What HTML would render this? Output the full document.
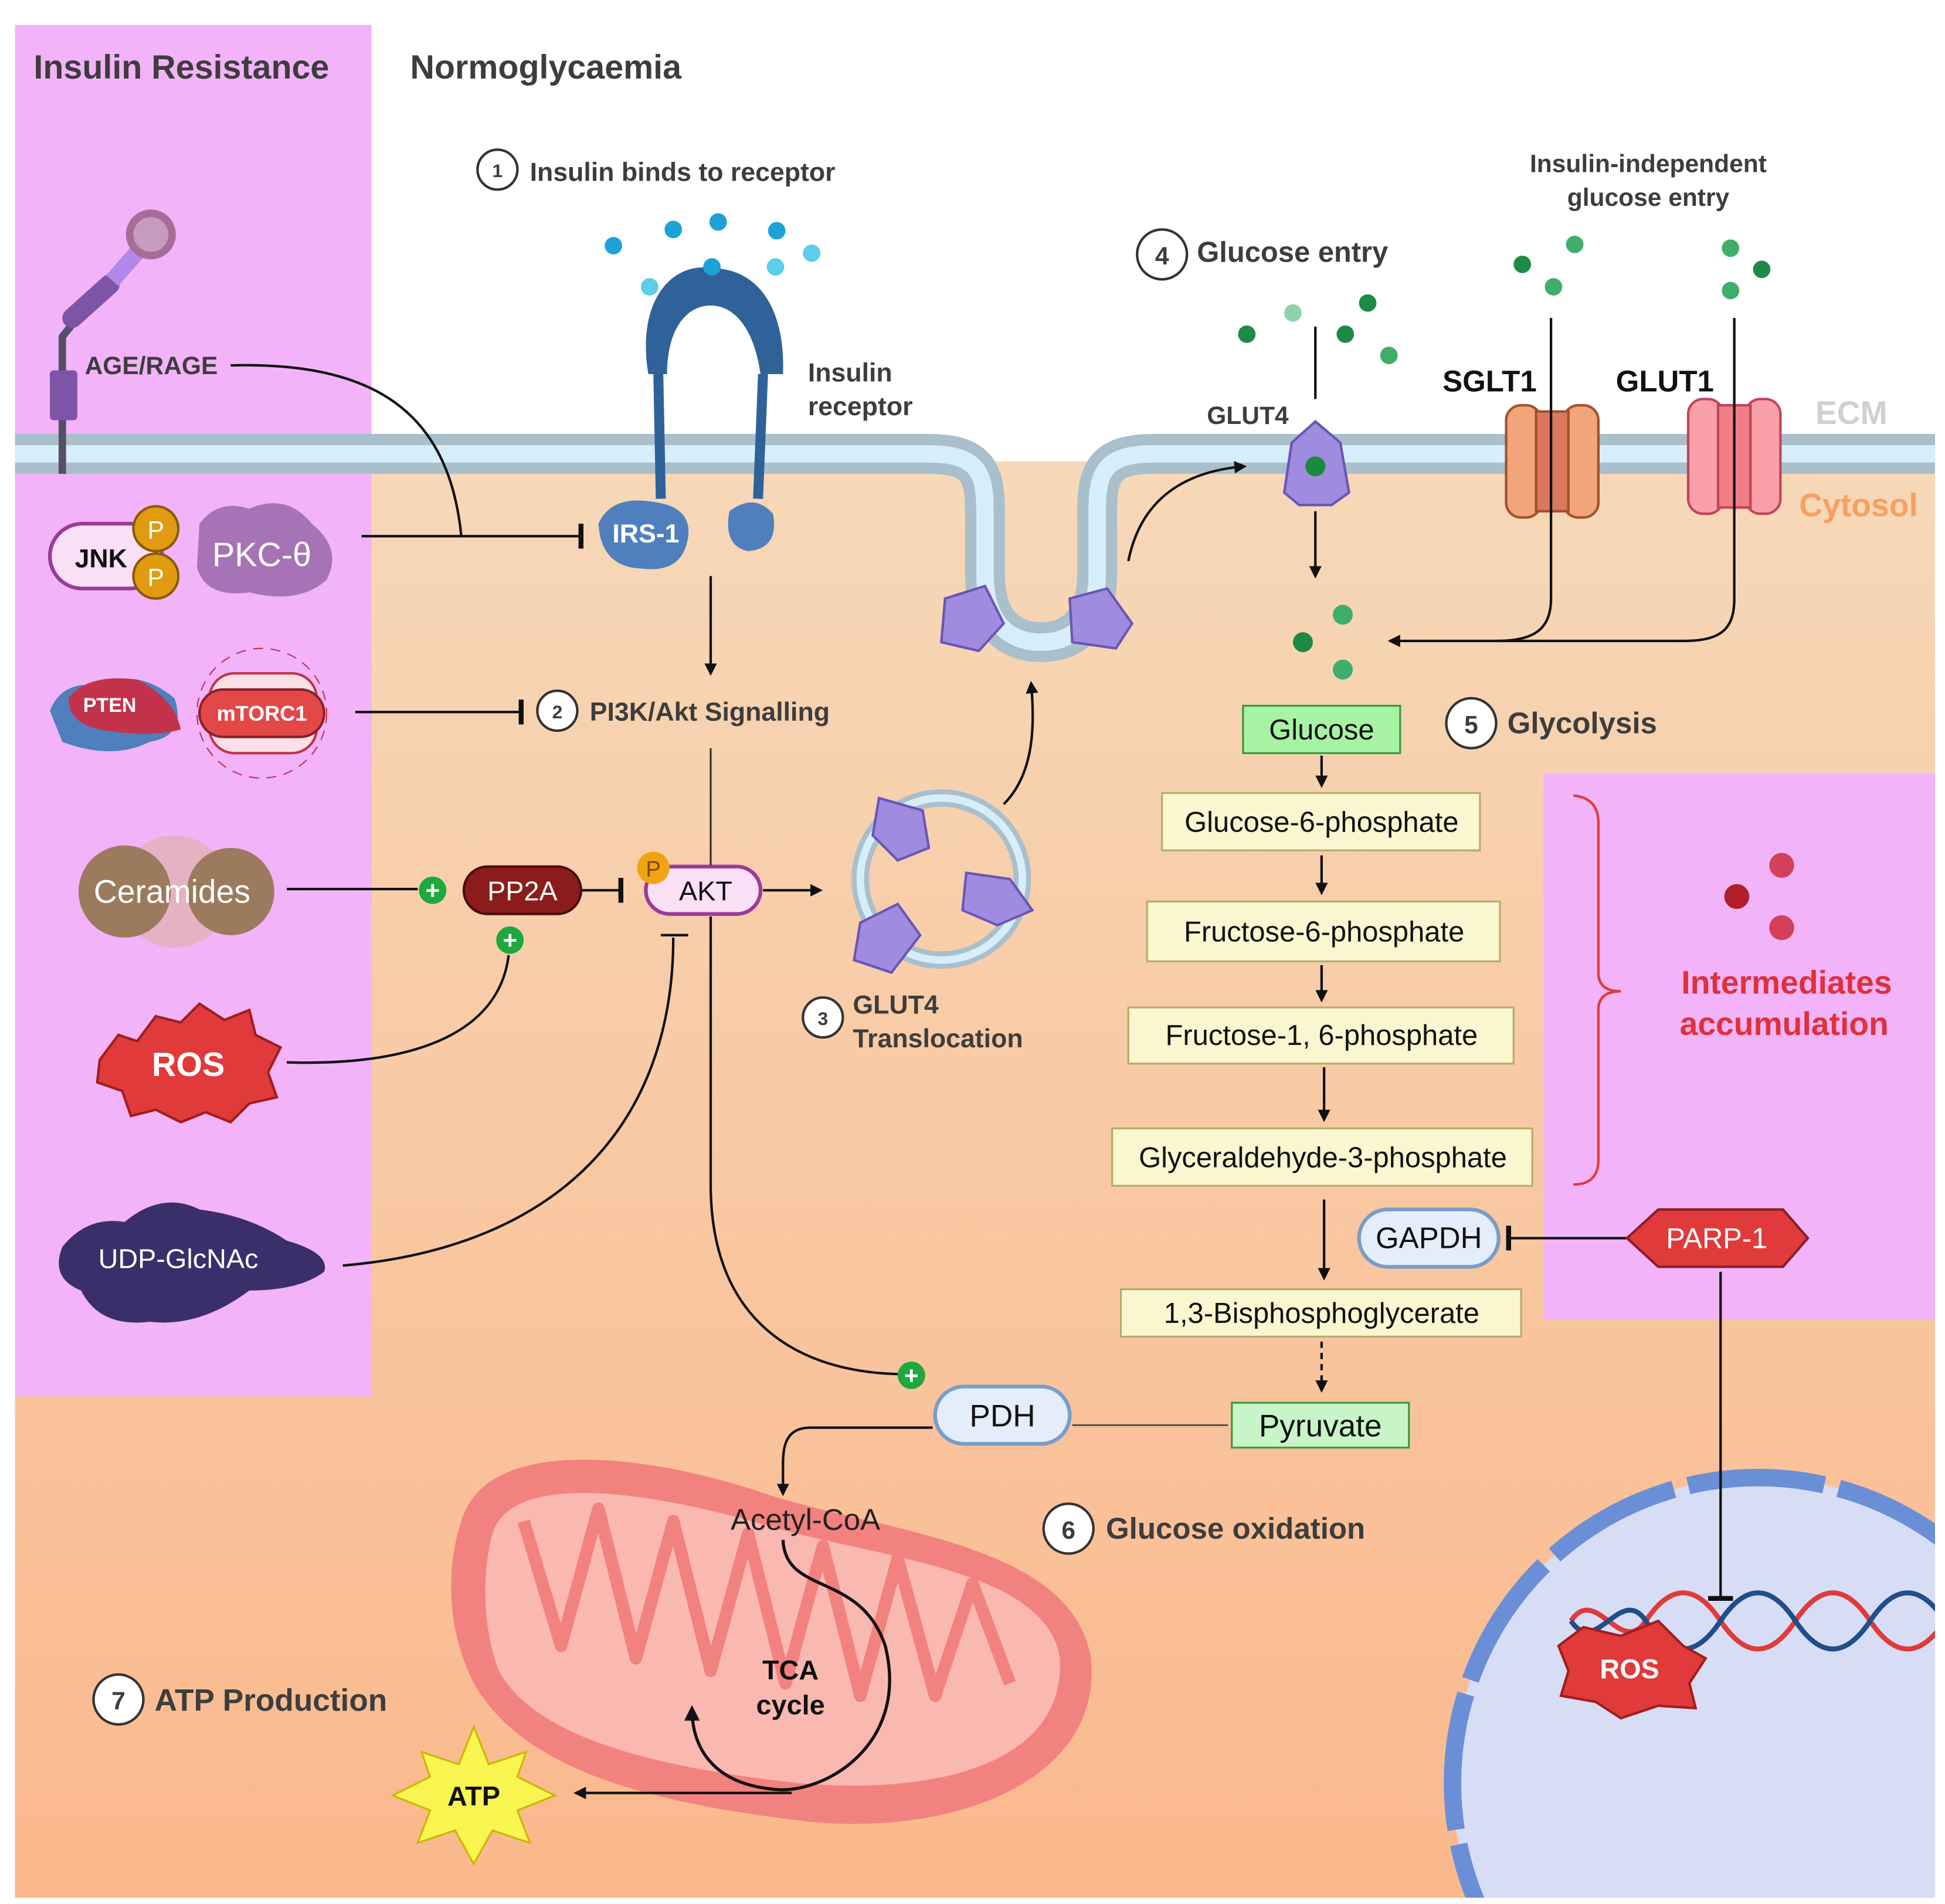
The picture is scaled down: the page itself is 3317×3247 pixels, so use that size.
<!DOCTYPE html>
<html><head><meta charset="utf-8"><style>
html,body{margin:0;padding:0;background:#fff;overflow:hidden;width:3317px;height:3247px}
svg{display:block}
text{font-family:"Liberation Sans",sans-serif}
</style></head><body>
<svg width="3317" height="3247" viewBox="0 0 1560 1527" xmlns="http://www.w3.org/2000/svg">
<defs>
<linearGradient id="cyt" x1="0" y1="0" x2="0" y2="1">
<stop offset="0" stop-color="#f6d8b8"/><stop offset="1" stop-color="#fbb88c"/></linearGradient>
<clipPath id="cc"><rect x="12" y="370" width="1540" height="1152"/></clipPath>
<marker id="ar" viewBox="0 0 10 10" refX="8" refY="5" markerWidth="5" markerHeight="5" orient="auto"><path d="M0 0L10 5L0 10z" fill="#111"/></marker>
<marker id="tb" viewBox="0 0 4 20" refX="2" refY="10" markerWidth="2" markerHeight="10" orient="auto"><rect x="0" y="0" width="4" height="20" fill="#111"/></marker>
</defs>
<rect width="1560" height="1527" fill="#fff"/>
<rect x="12" y="370" width="1540" height="1152" fill="url(#cyt)"/>
<rect x="12" y="20" width="286" height="1100" fill="#f2b3f8"/>
<rect x="1238" y="620" width="314" height="438" fill="#f2b3f8"/>
<!-- membrane -->
<path d="M12 364 H745 C785 364 790 380 790 410 V460 C790 500 810 515 835 515 C860 515 880 500 880 460 V410 C880 380 885 364 925 364 H1552" fill="none" stroke="#a9bfcc" stroke-width="32"/>
<path d="M12 364 H745 C785 364 790 380 790 410 V460 C790 500 810 515 835 515 C860 515 880 500 880 460 V410 C880 380 885 364 925 364 H1552" fill="none" stroke="#d5eefa" stroke-width="14"/>
<!-- titles -->
<text x="27" y="63" font-size="27" font-weight="bold" fill="#3d3d3d">Insulin Resistance</text>
<text x="329" y="63" font-size="27" font-weight="bold" fill="#3d3d3d">Normoglycaemia</text>
<g font-weight="bold" fill="#3d3d3d">
<circle cx="399" cy="136" r="16" fill="#fff" stroke="#333" stroke-width="2"/><text x="399" y="142" font-size="15" text-anchor="middle">1</text>
<text x="425" y="145" font-size="21">Insulin binds to receptor</text>
<circle cx="932" cy="204" r="20" fill="#fff" stroke="#333" stroke-width="2"/><text x="932" y="212" font-size="20" text-anchor="middle">4</text>
<text x="960" y="210" font-size="23">Glucose entry</text>
<text x="1322" y="138" font-size="20" text-anchor="middle">Insulin-independent</text>
<text x="1322" y="165" font-size="20" text-anchor="middle">glucose entry</text>
<text x="648" y="306" font-size="21">Insulin</text><text x="648" y="333" font-size="21">receptor</text>
<text x="968" y="340" font-size="20">GLUT4</text>
<circle cx="447" cy="570" r="16" fill="#fff" stroke="#333" stroke-width="2"/><text x="447" y="576" font-size="15" text-anchor="middle">2</text>
<text x="473" y="578" font-size="21">PI3K/Akt Signalling</text>
<circle cx="1180" cy="580" r="20" fill="#fff" stroke="#333" stroke-width="2"/><text x="1180" y="588" font-size="20" text-anchor="middle">5</text>
<text x="1209" y="588" font-size="24">Glycolysis</text>
<circle cx="660" cy="816" r="16" fill="#fff" stroke="#333" stroke-width="2"/><text x="660" y="822" font-size="15" text-anchor="middle">3</text>
<text x="684" y="813" font-size="21">GLUT4</text><text x="684" y="840" font-size="21">Translocation</text>
<circle cx="857" cy="1226" r="20" fill="#fff" stroke="#333" stroke-width="2"/><text x="857" y="1234" font-size="20" text-anchor="middle">6</text>
<text x="887" y="1234" font-size="24">Glucose oxidation</text>
<circle cx="95" cy="1363" r="20" fill="#fff" stroke="#333" stroke-width="2"/><text x="95" y="1371" font-size="20" text-anchor="middle">7</text>
<text x="124" y="1372" font-size="25">ATP Production</text>
</g>
<text x="1157" y="314" font-size="24" font-weight="bold" fill="#111">SGLT1</text>
<text x="1296" y="314" font-size="24" font-weight="bold" fill="#111">GLUT1</text>
<text x="1456" y="340" font-size="26" font-weight="bold" fill="#d0d0d0">ECM</text>
<text x="1443" y="414" font-size="26" font-weight="bold" fill="#f8a060">Cytosol</text>
<!-- AGE/RAGE -->
<path d="M50 380 V270 L70 245" stroke="#555068" stroke-width="6" fill="none"/>
<rect x="40" y="297" width="22" height="40" rx="3" fill="#7d55a7"/>
<path d="M58 255 L88 228" stroke="#7d55a7" stroke-width="16" stroke-linecap="round"/>
<path d="M90 225 L112 200" stroke="#b088ea" stroke-width="13"/>
<circle cx="121" cy="188" r="20" fill="#a76c98"/><circle cx="121" cy="188" r="14" fill="#c79bbd"/>
<text x="68" y="300" font-size="20" font-weight="bold" fill="#3d3d3d">AGE/RAGE</text>
<path d="M185 293 C300 290 360 330 370 430 M290 430 H466" stroke="#111" stroke-width="2" fill="none" marker-end="url(#tb)"/>
<!-- JNK PKC -->
<rect x="40" y="420" width="90" height="52" rx="26" fill="#fae0f6" stroke="#9a3b98" stroke-width="3"/>
<text x="60" y="455" font-size="21" font-weight="bold" fill="#111">JNK</text>
<circle cx="125" cy="424" r="18" fill="#e09b10" stroke="#8a5a05" stroke-width="2"/><text x="125" y="432" font-size="20" text-anchor="middle" fill="#fff">P</text>
<circle cx="125" cy="462" r="18" fill="#e09b10" stroke="#8a5a05" stroke-width="2"/><text x="125" y="470" font-size="20" text-anchor="middle" fill="#fff">P</text>
<path d="M160 420 Q175 400 200 408 Q230 395 250 420 Q275 440 262 465 Q240 485 200 475 Q165 480 158 455z" fill="#a673b6"/>
<text x="210" y="454" font-size="27" text-anchor="middle" fill="#fff">PKC-θ</text>
<!-- IRS-1 / receptor -->
<path d="M520 300 C510 240 540 210 570 215 C610 215 630 250 628 300 L610 300 C605 265 590 245 570 245 C550 245 535 265 535 300z" fill="#2f6299"/>
<path d="M528 300 L530 400 M612 300 L608 400" stroke="#2f6299" stroke-width="8"/>
<path d="M480 420 Q490 398 520 402 Q555 405 552 430 Q548 460 515 456 Q482 455 480 420z" fill="#4f7fbd"/>
<text x="518" y="435" font-size="21" font-weight="bold" fill="#fff" text-anchor="middle">IRS-1</text>
<path d="M585 410 Q605 395 620 412 Q625 440 600 442 Q580 438 585 410z" fill="#4f7fbd"/>
<g fill="#1ba3d6"><circle cx="492" cy="197" r="7"/><circle cx="540" cy="184" r="7"/><circle cx="576" cy="178" r="7"/><circle cx="623" cy="185" r="7"/><circle cx="571" cy="214" r="7"/></g>
<g fill="#5dcde8"><circle cx="521" cy="230" r="7"/><circle cx="622" cy="214" r="7"/><circle cx="651" cy="203" r="7"/></g>
<path d="M570 462 V540" stroke="#111" stroke-width="2" marker-end="url(#ar)"/>
<!-- PTEN mTORC1 -->
<path d="M40 570 Q50 545 80 550 Q110 535 140 560 Q150 590 120 595 Q90 610 50 595z" fill="#4f7fbd"/>
<path d="M55 560 Q70 540 110 545 Q140 560 145 585 Q120 592 80 585 Q55 580 55 560z" fill="#c2334b"/>
<text x="88" y="571" font-size="16" font-weight="bold" fill="#fff" text-anchor="middle">PTEN</text>
<circle cx="210" cy="572" r="52" fill="none" stroke="#c2334b" stroke-dasharray="8 6"/>
<rect x="168" y="540" width="86" height="64" rx="20" fill="#fde0e6" stroke="#c2334b" stroke-width="2"/>
<rect x="160" y="553" width="100" height="38" rx="19" fill="#e34848" stroke="#8a1f2a" stroke-width="2"/>
<text x="210" y="578" font-size="17" font-weight="bold" fill="#fff" text-anchor="middle">mTORC1</text>
<path d="M285 571 H418" stroke="#111" stroke-width="2" marker-end="url(#tb)"/>
<!-- Ceramides -->
<circle cx="140" cy="715" r="45" fill="#e5b2c3"/>
<circle cx="100" cy="715" r="37" fill="#9c7a5d"/><circle cx="185" cy="715" r="35" fill="#9c7a5d"/>
<text x="138" y="724" font-size="26" fill="#fff" text-anchor="middle">Ceramides</text>
<path d="M230 713 H335" stroke="#111" stroke-width="2"/>
<circle cx="347" cy="714" r="11" fill="#1ea83d"/><text x="347" y="721" font-size="20" font-weight="bold" fill="#fff" text-anchor="middle">+</text>
<rect x="372" y="695" width="94" height="38" rx="19" fill="#8c1c1c" stroke="#4a0d0d" stroke-width="2"/>
<text x="419" y="722" font-size="22" fill="#fff" text-anchor="middle">PP2A</text>
<path d="M466 714 H498" stroke="#111" stroke-width="2" marker-end="url(#tb)"/>
<circle cx="409" cy="754" r="11" fill="#1ea83d"/><text x="409" y="761" font-size="20" font-weight="bold" fill="#fff" text-anchor="middle">+</text>
<path d="M230 852 C330 855 400 830 408 766" stroke="#111" stroke-width="2" fill="none"/>
<!-- ROS -->
<path d="M80 850 L95 830 L110 835 L125 815 L145 820 L160 805 L180 818 L200 810 L205 830 L225 840 L215 860 L222 880 L200 885 L185 900 L165 892 L145 900 L125 890 L105 895 L98 875 L78 868z" fill="#e03a3a" stroke="#a01e1e" stroke-width="2"/>
<text x="151" y="863" font-size="27" font-weight="bold" fill="#fff" text-anchor="middle">ROS</text>
<!-- AKT -->
<rect x="518" y="695" width="92" height="38" rx="19" fill="#fae0f6" stroke="#9a3b98" stroke-width="3"/>
<text x="566" y="722" font-size="22" fill="#111" text-anchor="middle">AKT</text>
<circle cx="524" cy="696" r="13" fill="#f2a313"/><text x="524" y="703" font-size="18" fill="#7a4a00" text-anchor="middle">P</text>
<path d="M612 714 H658" stroke="#111" stroke-width="2" marker-end="url(#ar)"/>
<path d="M570 600 V694" stroke="#333" stroke-width="1.5"/>
<path d="M275 1015 C450 1000 540 900 540 752 M530 750 H552" stroke="#111" stroke-width="2" fill="none"/>
<path d="M570 735 V950 C570 1060 640 1100 720 1102" stroke="#111" stroke-width="2" fill="none"/>
<circle cx="731" cy="1103" r="11" fill="#1ea83d"/><text x="731" y="1110" font-size="20" font-weight="bold" fill="#fff" text-anchor="middle">+</text>
<!-- UDP-GlcNAc -->
<path d="M50 1000 Q70 975 100 980 Q130 955 160 970 Q200 975 230 995 Q265 1005 260 1020 Q240 1035 200 1035 Q160 1065 120 1060 Q80 1065 65 1035 Q40 1025 50 1000z" fill="#3a2f6b"/>
<text x="143" y="1017" font-size="22" fill="#fff" text-anchor="middle">UDP-GlcNAc</text>
<!-- GLUT4 vesicle -->
<circle cx="755" cy="705" r="65" fill="none" stroke="#a9bfcc" stroke-width="14"/>
<circle cx="755" cy="705" r="65" fill="none" stroke="#d5eefa" stroke-width="6"/>
<g fill="#9f8be0" stroke="#6a56b5" stroke-width="2">
<path d="M705 640 L740 650 L745 680 L720 690 L700 670z"/>
<path d="M775 700 L810 705 L828 730 L800 742 L772 730z"/>
<path d="M690 740 L720 725 L738 750 L715 780 L685 770z"/>
<path d="M758 480 L790 470 L805 500 L785 522 L755 515z"/>
<path d="M858 480 L888 472 L908 500 L895 520 L860 515z"/>
</g>
<path d="M805 645 C830 620 830 580 827 548" stroke="#111" stroke-width="2" fill="none" marker-end="url(#ar)"/>
<path d="M905 450 C915 400 950 378 998 374" stroke="#111" stroke-width="2" fill="none" marker-end="url(#ar)"/>
<!-- GLUT4 membrane -->
<path d="M1055 338 L1075 355 L1082 395 L1068 405 L1042 405 L1030 395 L1036 355z" fill="#9f8be0" stroke="#6a56b5" stroke-width="2"/>
<circle cx="1055" cy="374" r="8" fill="#1a8a3d"/>
<path d="M1055 262 V320 M1055 410 V462" stroke="#111" stroke-width="2" marker-end="url(#ar)"/>
<g fill="#1e8a45"><circle cx="1000" cy="268" r="7"/><circle cx="1097" cy="243" r="7"/><circle cx="1079" cy="268" r="7"/><circle cx="1221" cy="212" r="7"/><circle cx="1413" cy="216" r="7"/><circle cx="1045" cy="515" r="8"/></g>
<g fill="#3fae6a"><circle cx="1037" cy="251" r="7" fill="#8fd1a8"/><circle cx="1114" cy="285" r="7"/><circle cx="1263" cy="196" r="7"/><circle cx="1246" cy="230" r="7"/><circle cx="1388" cy="199" r="7"/><circle cx="1388" cy="233" r="7"/><circle cx="1077" cy="493" r="8"/><circle cx="1077" cy="537" r="8"/></g>
<!-- SGLT1 / GLUT1 -->
<g stroke="#a0522d" stroke-width="2" fill="#f2a47a"><rect x="1208" y="325" width="28" height="90" rx="12"/><rect x="1254" y="325" width="28" height="90" rx="12"/><rect x="1232" y="330" width="26" height="80" fill="#d9785a"/></g>
<g stroke="#c0455a" stroke-width="2" fill="#f9a0a8"><rect x="1354" y="320" width="28" height="92" rx="12"/><rect x="1400" y="320" width="28" height="92" rx="12"/><rect x="1378" y="325" width="26" height="82" fill="#f07d88"/></g>
<path d="M1244 255 V480 C1244 505 1230 514 1200 514 H1115" stroke="#111" stroke-width="2" fill="none" marker-end="url(#ar)"/>
<path d="M1391 255 V480 C1391 505 1380 514 1350 514 H1200" stroke="#111" stroke-width="2" fill="none"/>
<!-- glycolysis boxes -->
<g font-size="23" fill="#111" text-anchor="middle">
<rect x="997" y="566" width="126" height="38" fill="#a6f3a4" stroke="#3a9a3a" stroke-width="1.5"/><text x="1060" y="593">Glucose</text>
<rect x="932" y="636" width="255" height="46" fill="#f9f6d0" stroke="#b5ad6a" stroke-width="1.5"/><text x="1060" y="667">Glucose-6-phosphate</text>
<rect x="920" y="723" width="283" height="48" fill="#f9f6d0" stroke="#b5ad6a" stroke-width="1.5"/><text x="1062" y="755">Fructose-6-phosphate</text>
<rect x="905" y="808" width="309" height="45" fill="#f9f6d0" stroke="#b5ad6a" stroke-width="1.5"/><text x="1060" y="838">Fructose-1, 6-phosphate</text>
<rect x="892" y="905" width="337" height="46" fill="#f9f6d0" stroke="#b5ad6a" stroke-width="1.5"/><text x="1061" y="936">Glyceraldehyde-3-phosphate</text>
<rect x="899" y="1034" width="321" height="38" fill="#f9f6d0" stroke="#b5ad6a" stroke-width="1.5"/><text x="1060" y="1061">1,3-Bisphosphoglycerate</text>
<rect x="988" y="1125" width="142" height="36" fill="#c8f5c8" stroke="#3a9a3a" stroke-width="1.5"/><text x="1059" y="1152" font-size="25">Pyruvate</text>
</g>
<g stroke="#111" stroke-width="2">
<path d="M1060 606 V630" marker-end="url(#ar)"/><path d="M1060 686 V716" marker-end="url(#ar)"/><path d="M1060 774 V802" marker-end="url(#ar)"/><path d="M1062 856 V898" marker-end="url(#ar)"/><path d="M1062 962 V1025" marker-end="url(#ar)"/><path d="M1060 1076 V1115" stroke-dasharray="5 4" marker-end="url(#ar)"/>
</g>
<rect x="1090" y="970" width="112" height="46" rx="23" fill="#e3eefa" stroke="#7a9cc8" stroke-width="3"/>
<text x="1146" y="1001" font-size="24" text-anchor="middle" fill="#111">GAPDH</text>
<path d="M1305 993 H1210" stroke="#111" stroke-width="2" marker-end="url(#tb)"/>
<path d="M1262 638 Q1282 640 1282 660 V780 Q1282 795 1300 795 Q1282 795 1282 810 V930 Q1282 950 1262 950" stroke="#e03a3a" stroke-width="2" fill="none"/>
<circle cx="1429" cy="694" r="10" fill="#d2405a"/><circle cx="1393" cy="719" r="10" fill="#b01e2a"/><circle cx="1429" cy="744" r="10" fill="#d2405a"/>
<text x="1433" y="797" font-size="26" font-weight="bold" fill="#e0303a" text-anchor="middle">Intermediates</text>
<text x="1431" y="830" font-size="26" font-weight="bold" fill="#e0303a" text-anchor="middle">accumulation</text>
<!-- nucleus -->
<g clip-path="url(#cc)">
<circle cx="1410" cy="1430" r="245" fill="#d7ddf4"/>
<circle cx="1410" cy="1430" r="245" fill="none" stroke="#6b8fd6" stroke-width="14" stroke-dasharray="110 12"/>
<path d="M1260 1300 C1280 1270 1300 1330 1320 1300 S1360 1270 1380 1300 S1420 1330 1440 1300 S1480 1270 1500 1300 S1540 1330 1560 1300" stroke="#e03a3a" stroke-width="4" fill="none"/>
<path d="M1260 1300 C1280 1330 1300 1270 1320 1300 S1360 1330 1380 1300 S1420 1270 1440 1300 S1480 1330 1500 1300 S1540 1270 1560 1300" stroke="#1f4e8a" stroke-width="4" fill="none"/>
</g>
<path d="M1305 993 L1330 970 H1430 L1450 993 L1430 1016 H1330z" fill="#e03a3a" stroke="#8a1f2a" stroke-width="2"/>
<text x="1377" y="1001" font-size="23" fill="#fff" text-anchor="middle">PARP-1</text>
<path d="M1380 1020 V1282" stroke="#111" stroke-width="2" marker-end="url(#tb)"/>
<path d="M1250 1320 L1270 1305 L1300 1312 L1330 1300 L1350 1320 L1368 1330 L1355 1350 L1360 1370 L1330 1368 L1300 1378 L1280 1365 L1252 1360 L1258 1340z" fill="#e03a3a" stroke="#a01e1e" stroke-width="2"/>
<text x="1307" y="1346" font-size="22" font-weight="bold" fill="#fff" text-anchor="middle">ROS</text>
<!-- mitochondrion -->
<path d="M370 1220 C390 1150 520 1165 620 1200 C720 1230 860 1240 875 1330 C885 1430 760 1475 640 1460 C520 1445 420 1420 380 1350 C355 1300 360 1250 370 1220z" fill="#f2827f"/>
<path d="M395 1230 C410 1180 520 1195 620 1225 C710 1250 840 1260 850 1330 C855 1415 750 1440 640 1430 C530 1418 430 1395 400 1340 C385 1300 388 1255 395 1230z" fill="#f9b8b0"/>
<path d="M420 1220 L450 1320 L480 1210 L510 1330 L540 1220 L570 1340 L600 1230 L630 1350 L660 1240 L690 1360 L720 1250 L750 1360 L780 1270 L810 1350" stroke="#f2827f" stroke-width="10" fill="none" stroke-linejoin="round"/>
<rect x="750" y="1112" width="108" height="46" rx="23" fill="#e3eefa" stroke="#7a9cc8" stroke-width="3"/>
<text x="804" y="1144" font-size="25" text-anchor="middle" fill="#111">PDH</text>
<path d="M860 1143 H985" stroke="#555" stroke-width="1.5"/>
<path d="M748 1145 H650 C630 1145 628 1160 628 1175 V1198" stroke="#111" stroke-width="2" fill="none" marker-end="url(#ar)"/>
<text x="646" y="1227" font-size="24" text-anchor="middle" fill="#222">Acetyl-CoA</text>
<path d="M628 1235 C630 1280 690 1260 710 1320 C730 1400 660 1440 620 1435 C570 1430 555 1400 555 1370" stroke="#111" stroke-width="2.5" fill="none" marker-end="url(#ar)"/>
<text x="634" y="1347" font-size="22" font-weight="bold" text-anchor="middle" fill="#111">TCA</text>
<text x="634" y="1375" font-size="22" font-weight="bold" text-anchor="middle" fill="#111">cycle</text>
<path d="M635 1438 H462" stroke="#111" stroke-width="2" marker-end="url(#ar)"/>
<path d="M380 1385 L392 1415 L422 1405 L415 1425 L445 1440 L415 1452 L425 1478 L395 1468 L380 1495 L365 1468 L335 1478 L345 1452 L315 1440 L345 1425 L338 1405 L368 1415z" fill="#f8f450" stroke="#c9b800" stroke-width="1.5"/>
<text x="380" y="1448" font-size="22" font-weight="bold" text-anchor="middle" fill="#111">ATP</text>
</svg>
</body></html>
